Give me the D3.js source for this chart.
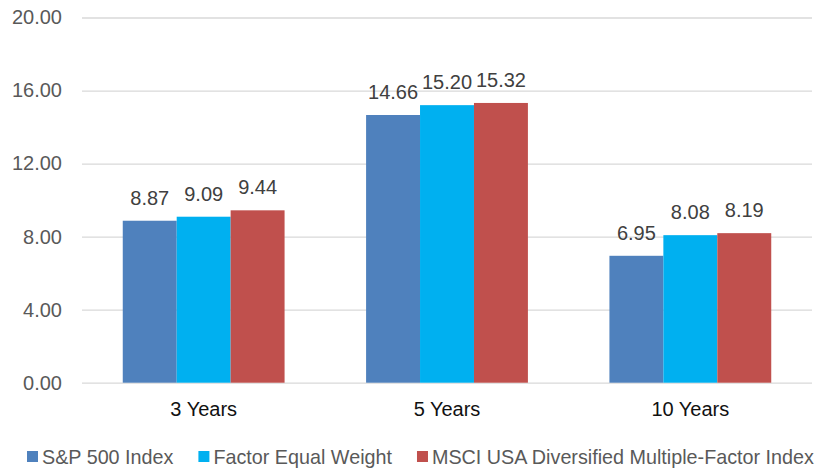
<!DOCTYPE html>
<html>
<head>
<meta charset="utf-8">
<script src="https://cdn.jsdelivr.net/npm/d3@7/dist/d3.min.js"></script>
<style>
  html, body { margin: 0; padding: 0; background: #fff; }
  svg { display: block; font-family: "Liberation Sans", Arial, sans-serif; }
</style>
</head>
<body>
<svg id="chart" width="821" height="469"></svg>
<script>
// Annualized returns by period
const periods = ["3 Years", "5 Years", "10 Years"];
const seriesNames = ["S&P 500 Index", "Factor Equal Weight", "MSCI USA Diversified Multiple-Factor Index"];
const sp500 = [8.87, 14.66, 6.95];
const factorEqualWeight = [9.09, 15.20, 8.08];
const msciMultiFactor = [9.44, 15.32, 8.19];
const yTicks = [0, 4, 8, 12, 16, 20];
const colors = ["#4f81bd", "#00b0f0", "#c0504d"];

const seriesValues = [sp500, factorEqualWeight, msciMultiFactor];

const svg = d3.select("#chart");
const plot = { left: 82, right: 812, top: 17.5, bottom: 382.7 };

const y = d3.scaleLinear().domain([0, 20]).range([plot.bottom, plot.top]);
const x0 = d3.scaleBand().domain(periods).range([plot.left, plot.right])
  .paddingInner(0.335).paddingOuter(0.1675);
const x1 = d3.scaleBand().domain(seriesNames).range([0, x0.bandwidth()]).padding(0);

// Gridlines and value axis
const yAxis = d3.axisLeft(y).tickValues(yTicks).tickFormat(d3.format(".2f"))
  .tickSize(-(plot.right - plot.left)).tickPadding(20);
const gy = svg.append("g").attr("transform", `translate(${plot.left},0)`).call(yAxis);
gy.select(".domain").remove();
gy.selectAll(".tick line").attr("stroke", "#d9d9d9").attr("stroke-width", 1.3);
gy.selectAll(".tick text").attr("fill", "#595959").attr("font-size", 20)
  .attr("font-family", "Liberation Sans, Arial, sans-serif");

// Bars
const groups = svg.append("g").selectAll("g").data(periods).join("g")
  .attr("transform", d => `translate(${x0(d)},0)`);

groups.each(function(p, i) {
  const g = d3.select(this);
  const rows = seriesNames.map((s, k) => ({ s, v: seriesValues[k][i], k }));
  g.selectAll("rect").data(rows).join("rect")
    .attr("x", d => x1(d.s))
    .attr("y", d => y(d.v))
    .attr("width", x1.bandwidth())
    .attr("height", d => y(0) - y(d.v))
    .attr("fill", d => colors[d.k]);
  g.selectAll("text").data(rows).join("text")
    .attr("x", d => x1(d.s) + x1.bandwidth() / 2)
    .attr("y", d => y(d.v) - 16)
    .attr("text-anchor", "middle")
    .attr("font-size", 20)
    .attr("fill", "#404040")
    .text(d => d.v.toFixed(2));
});

// Category axis
const xAxis = d3.axisBottom(x0).tickSize(0).tickPadding(19);
const gx = svg.append("g").attr("transform", `translate(0,${plot.bottom})`).call(xAxis);
gx.select(".domain").remove();
gx.selectAll(".tick text").attr("fill", "#111").attr("font-size", 20)
  .attr("font-family", "Liberation Sans, Arial, sans-serif");

// Legend
const legend = svg.append("g").attr("transform", "translate(27,451)");
let lx = 0;
seriesNames.forEach((name, k) => {
  legend.append("rect").attr("x", lx).attr("y", 0).attr("width", 11).attr("height", 11)
    .attr("fill", colors[k]);
  const t = legend.append("text").attr("x", lx + 15).attr("y", 12.5)
    .attr("font-size", 19.75).attr("fill", "#595959").text(name);
  lx += 15 + t.node().getComputedTextLength() + 25;
});
</script>
</body>
</html>
